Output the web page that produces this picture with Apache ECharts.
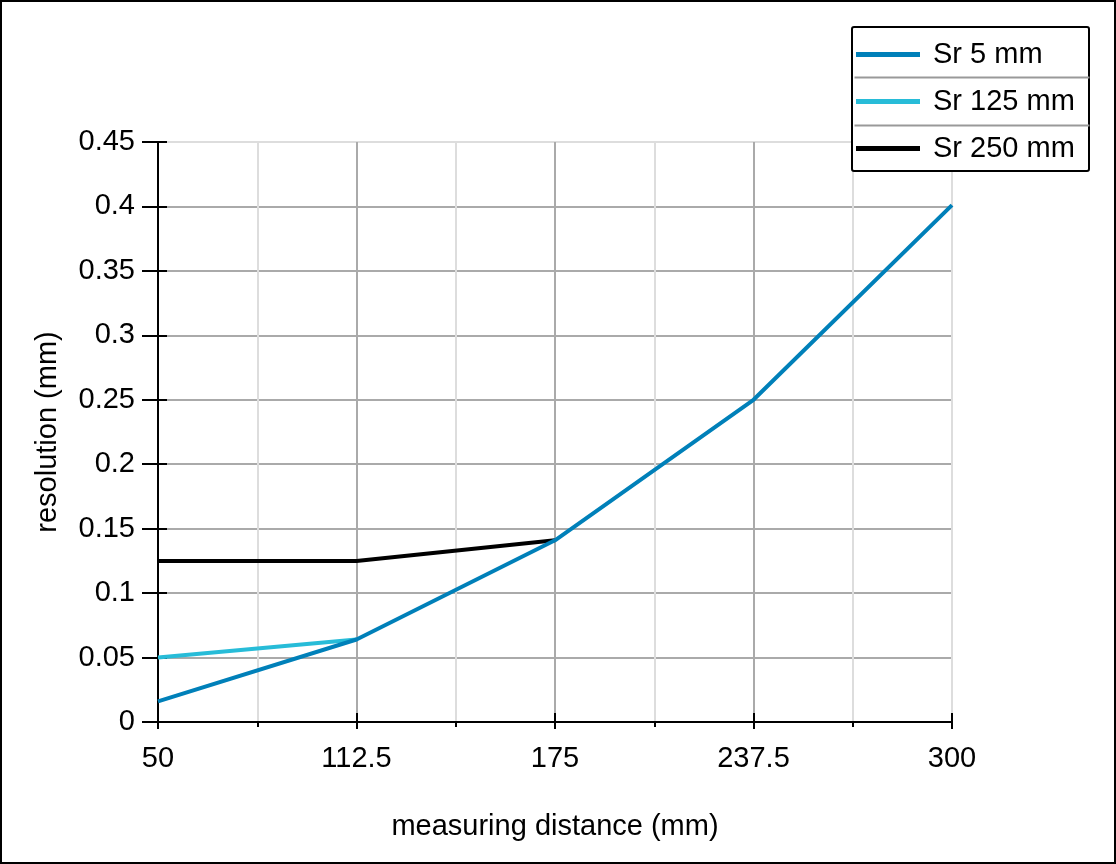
<!DOCTYPE html>
<html>
<head>
<meta charset="utf-8">
<script src="https://cdn.jsdelivr.net/npm/echarts@6/dist/echarts.min.js"></script>
<style>
html, body { margin: 0; padding: 0; background: #fff; }
#main { width: 1116px; height: 864px; box-sizing: border-box; border: 2px solid #000; }
</style>
</head>
<body>
<div id="main"></div>
<script>
var distance = [50, 112.5, 175, 237.5, 300];
var sr5 = [0.016, 0.064, 0.141, 0.25, 0.401];
var sr125 = [0.05, 0.064];
var sr250 = [0.125, 0.125, 0.141];
var seriesNames = ['Sr 5 mm', 'Sr 125 mm', 'Sr 250 mm'];

function pairs(vals) {
    return vals.map(function (v, i) { return [distance[i], v]; });
}

var myChart = echarts.init(document.getElementById('main'));
var font = 'Liberation Sans, Arial, sans-serif';

option = {
    animation: false,
    textStyle: { fontFamily: font },
    grid: { left: 156, right: 162, top: 140, bottom: 140 },
    legend: {
        data: seriesNames,
        orient: 'vertical',
        left: 854,
        top: 38,
        icon: 'rect',
        itemWidth: 64,
        itemHeight: 5,
        itemGap: 18,
        padding: 0,
        z: 210,
        textStyle: { fontSize: 29, color: '#000', fontFamily: font, padding: [0, 0, 0, 8] }
    },
    xAxis: [{
        type: 'value',
        min: 50,
        max: 300,
        interval: 62.5,
        name: 'measuring distance (mm)',
        nameLocation: 'middle',
        nameGap: 90,
        nameTextStyle: { fontSize: 29, color: '#000' },
        axisLine: { lineStyle: { color: '#000', width: 2 } },
        axisTick: { length: 7, lineStyle: { color: '#000', width: 2 } },
        minorTick: { show: true, splitNumber: 2, length: 5, lineStyle: { color: '#000', width: 2 } },
        axisLabel: { fontSize: 29, color: '#000', margin: 22 },
        splitLine: { show: true, lineStyle: { color: ['#aaa', '#aaa', '#aaa', '#aaa', '#ddd'], width: 2 } },
        minorSplitLine: { show: true, lineStyle: { color: '#ddd', width: 2 } }
    }, {
        type: 'value',
        position: 'bottom',
        min: 50,
        max: 300,
        interval: 62.5,
        axisLine: { show: false },
        axisTick: { show: true, inside: true, length: 9, lineStyle: { color: '#000', width: 2 } },
        axisLabel: { show: false },
        splitLine: { show: false }
    }],
    yAxis: [{
        type: 'value',
        min: 0,
        max: 0.45,
        interval: 0.05,
        name: 'resolution (mm)',
        nameLocation: 'middle',
        nameGap: 96,
        nameTextStyle: { fontSize: 29, color: '#000' },
        axisLine: { show: true, lineStyle: { color: '#000', width: 2 } },
        axisTick: { show: true, length: 16, lineStyle: { color: '#000', width: 2 } },
        axisLabel: { fontSize: 29, color: '#000', margin: 23 },
        splitLine: { show: true, lineStyle: { color: ['#aaa', '#aaa', '#aaa', '#aaa', '#aaa', '#aaa', '#aaa', '#aaa', '#aaa', '#ddd'], width: 2 } }
    }, {
        type: 'value',
        position: 'left',
        min: 0,
        max: 0.45,
        interval: 0.05,
        axisLine: { show: false },
        axisTick: { show: true, inside: true, length: 9, lineStyle: { color: '#000', width: 2 } },
        axisLabel: { show: false },
        splitLine: { show: false }
    }],
    graphic: [
        { type: 'rect', left: 849, top: 24, shape: { width: 237, height: 144, r: 2 }, style: { fill: '#fff', stroke: '#000', lineWidth: 2 }, z: 100 },
        { type: 'line', left: 850, top: 73, shape: { x1: 0, y1: 0, x2: 235, y2: 0 }, style: { stroke: '#999', lineWidth: 2 }, z: 101 },
        { type: 'line', left: 850, top: 121, shape: { x1: 0, y1: 0, x2: 235, y2: 0 }, style: { stroke: '#999', lineWidth: 2 }, z: 101 }
    ],
    series: [{
        name: seriesNames[0],
        type: 'line',
        data: pairs(sr5),
        symbol: 'none',
        z: 4,
        itemStyle: { color: '#0080b9' },
        lineStyle: { color: '#0080b9', width: 4 }
    }, {
        name: seriesNames[1],
        type: 'line',
        data: pairs(sr125),
        symbol: 'none',
        z: 3,
        itemStyle: { color: '#27bcd8' },
        lineStyle: { color: '#27bcd8', width: 4 }
    }, {
        name: seriesNames[2],
        type: 'line',
        data: pairs(sr250),
        symbol: 'none',
        z: 3,
        itemStyle: { color: '#000' },
        lineStyle: { color: '#000', width: 4 }
    }]
};

myChart.setOption(option);
</script>
</body>
</html>
